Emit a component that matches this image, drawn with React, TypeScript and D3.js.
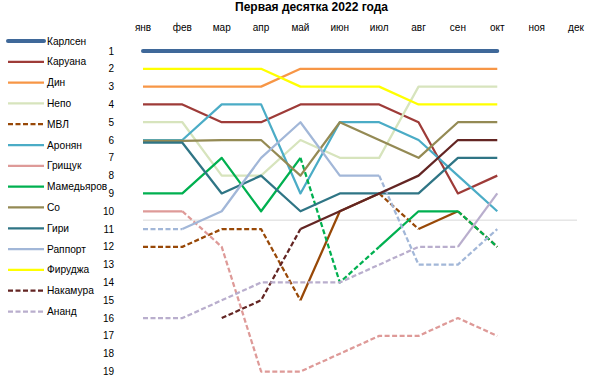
import React from 'react';
import * as d3 from 'd3';

const months = ['янв', 'фев', 'мар', 'апр', 'май', 'июн', 'июл', 'авг', 'сен', 'окт', 'ноя', 'дек'];
const rankTicks = [1, 2, 3, 4, 5, 6, 7, 8, 9, 10, 11, 12, 13, 14, 15, 16, 17, 18, 19];
const title = 'Первая десятка 2022 года';

const names = ['Карлсен', 'Каруана', 'Дин', 'Непо', 'МВЛ', 'Аронян', 'Грищук', 'Мамедьяров', 'Со', 'Гири', 'Раппорт', 'Фируджа', 'Накамура', 'Ананд'];

const carlsen = [1, 1, 1, 1, 1, 1, 1, 1, 1, 1];
const caruana = [4, 4, 5, 5, 4, 4, 4, 5, 9, 8];
const ding = [3, 3, 3, 3, 2, 2, 2, 2, 2, 2];
const nepo = [5, 5, 8, 8, 6, 7, 7, 3, 3, 3];
const mvl = [12, 12, 11, 11, 15, 10, 9, 11, 10, 12];
const aronian = [6, 6, 4, 4, 9, 5, 5, 6, 8, 10];
const grischuk = [10, 10, 12, 19, 19, 18, 17, 17, 16, 17];
const mamedyarov = [9, 9, 7, 10, 7, 14, 12, 10, 10, 12];
const so = [6.05, 6.05, 6, 6, 8, 5, 6, 7, 5, 5];
const giri = [6.15, 6.15, 9, 8, 10, 9, 9, 9, 7, 7];
const rapport = [11, 11, 10, 7, 5, 8, 8, 13, 13, 11];
const firouzja = [2, 2, 2, 2, 3, 3, 3, 4, 4, 4];
const nakamura = [null, null, 16, 15, 11, 10, 9, 8, 6, 6];
const anand = [16, 16, 15, 14, 14, 14, 13, 12, 12, 9];

const seriesValues: (number | null)[][] = [carlsen, caruana, ding, nepo, mvl, aronian, grischuk, mamedyarov, so, giri, rapport, firouzja, nakamura, anand];
const colors = ['#3F6899', '#9E3B38', '#F79646', '#D7E4BD', '#984807', '#4BACC6', '#DE9A98', '#00B050', '#948A54', '#2F7585', '#A2B7D8', '#FFFF00', '#632523', '#B9AECD'];
const legendDashed = [false, false, false, false, true, false, false, false, false, false, false, false, true, true];
const topLimit = 10;

const W = 591;
const H = 384;

export default function App() {
  const x = d3.scalePoint<string>().domain(months).range([143, 576]);
  const y = d3.scaleLinear().domain([1, 19]).range([51, 371.5]);
  const line = d3.line<[number, number]>().x(d => d[0]).y(d => d[1]);

  const paths: React.ReactNode[] = [];
  seriesValues.forEach((vals, si) => {
    const groups: { dashed: boolean; pts: [number, number][] }[] = [];
    for (let i = 0; i < vals.length - 1; i++) {
      const a = vals[i];
      const b = vals[i + 1];
      if (a == null || b == null) continue;
      const dashed = b > topLimit + 0.5;
      const p0: [number, number] = [x(months[i])!, y(a)];
      const p1: [number, number] = [x(months[i + 1])!, y(b)];
      const last = groups[groups.length - 1];
      if (last && last.dashed === dashed && last.pts[last.pts.length - 1][0] === p0[0] && last.pts[last.pts.length - 1][1] === p0[1]) {
        last.pts.push(p1);
      } else {
        groups.push({ dashed, pts: [p0, p1] });
      }
    }
    groups.forEach((g, gi) => {
      paths.push(
        <path
          key={`${si}-${gi}`}
          d={line(g.pts) || ''}
          fill="none"
          stroke={colors[si]}
          strokeWidth={si === 0 ? 4 : 2.25}
          strokeLinejoin="round"
          strokeLinecap={si === 0 ? 'round' : 'butt'}
          strokeDasharray={g.dashed ? '5,2.5' : undefined}
        />
      );
    });
  });

  const legendY = d3.scalePoint<string>().domain(names).range([41, 311.5]);

  return (
    <svg width={W} height={H} style={{ position: 'absolute', left: 0, top: 0 }} fontFamily="'Liberation Sans', Arial, sans-serif">
      <rect width={W} height={H} fill="#fff" />
      <text x={311.5} y={11} textAnchor="middle" fontSize={12} fontWeight="bold" fill="#000">{title}</text>
      {months.map(m => (
        <text key={m} x={x(m)} y={31} textAnchor="middle" fontSize={10} fill="#000">{m}</text>
      ))}
      {rankTicks.map(r => (
        <text key={r} x={114} y={y(r) + 3.5} textAnchor="end" fontSize={10} fill="#000">{r}</text>
      ))}
      <line x1={143} x2={577} y1={y(topLimit + 0.5)} y2={y(topLimit + 0.5)} stroke="#D9D9D9" strokeWidth={1} />
      {paths}
      {names.map((n, i) => (
        <g key={n}>
          <line x1={8} x2={44} y1={legendY(n)} y2={legendY(n)} stroke={colors[i]} strokeWidth={i === 0 ? 4 : 2.25} strokeLinecap={i === 0 ? 'round' : 'butt'} strokeDasharray={legendDashed[i] ? '5,2.5' : undefined} />
          <text x={47} y={legendY(n)! + 3.5} fontSize={10.2} fill="#000">{n}</text>
        </g>
      ))}
    </svg>
  );
}
